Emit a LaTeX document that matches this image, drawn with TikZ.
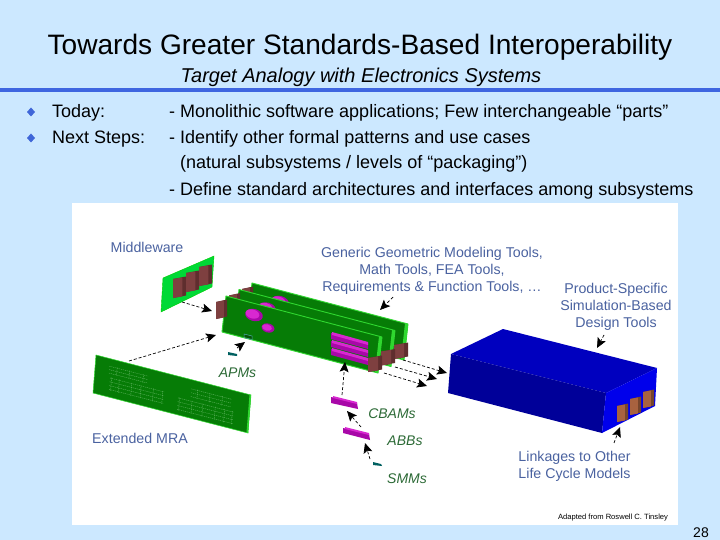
\documentclass[tikz,border=0pt]{standalone}
\usepackage{fontspec}
\setmainfont{Liberation Sans}
\usetikzlibrary{arrows.meta}
\definecolor{bgblue}{HTML}{CCE8FF}
\definecolor{rule}{HTML}{3F66E0}
\definecolor{bullet}{HTML}{3F66D8}
\definecolor{lbl}{HTML}{4A62A0}
\definecolor{glbl}{HTML}{2C6A36}
\definecolor{pcb}{HTML}{067C06}
\definecolor{pcbedge}{HTML}{2FD82F}
\definecolor{trace}{HTML}{5FB45F}
\definecolor{brick}{HTML}{7E4040}
\definecolor{brickd}{HTML}{5F2E2E}
\definecolor{purp}{HTML}{A808A8}
\definecolor{purpl}{HTML}{D828D0}
\definecolor{boxbrick}{HTML}{A8623F}
\tikzset{
  bluelabel/.style={text=lbl,font=\fontsize{14.2}{17}\selectfont,align=center,inner sep=0pt},
  greenlabel/.style={text=glbl,font=\fontsize{14}{17}\itshape\selectfont,inner sep=0pt},
  bodytext/.style={anchor=base west,inner sep=0pt,font=\fontsize{18}{20}\selectfont},
  conn/.style={draw=black,line width=0.7pt,dash pattern=on 3pt off 2pt,-{Stealth[length=10pt,width=9pt,inset=2pt]}},
  bul/.style={fill=bullet,draw=none},
}
\newcommand{\brk}[4]{% x y w h
  \fill[brickd] (#1,#2) -- ++(#3,-2.5) -- ++(0,#4) -- ++(-#3,2.5) -- cycle;
  \fill[brick] (#1,#2) -- ++(#3*0.72,-1.5) -- ++(0,#4) -- ++(-#3*0.72,1.5) -- cycle;
}
\newcommand{\bxb}[4]{% brick on the blue box
  \fill[boxbrick!70!black] (#1,#2) -- ++(#3,-2.5) -- ++(0,#4) -- ++(-#3,2.5) -- cycle;
  \fill[boxbrick] (#1,#2) -- ++(#3*0.72,-1.5) -- ++(0,#4) -- ++(-#3*0.72,1.5) -- cycle;
}
\newcommand{\card}{%
  \fill[pcb,draw=pcbedge,line width=0.9pt,line join=round] (226,296) -- (382,337) -- (378,373) -- (222,332) -- cycle;
  \fill[pcbedge] (382,337) -- (378,373) -- (375,372) -- (379,336.5) -- cycle;
  \brk{216}{302}{11}{17}
  \fill[purp] (254,315) ellipse [x radius=9pt, y radius=6pt, rotate=-15];
  \fill[purpl] (252.5,314) ellipse [x radius=7pt, y radius=4.5pt, rotate=-15];
  \fill[purp] (268,328) ellipse [x radius=6.5pt, y radius=4.5pt, rotate=-15];
  \fill[purpl] (267,327.5) ellipse [x radius=5pt, y radius=3.2pt, rotate=-15];
}
% trace on the MRA board, in board coordinates u,v in 0..1
\newcommand{\trc}[4]{\draw ({96+155*(#1)-3*(#2)},{355+40*(#1)+38*(#2)}) -- ({96+155*(#3)-3*(#4)},{355+40*(#3)+38*(#4)});}
\begin{document}
\begin{tikzpicture}[x=1pt,y=-1pt]
\useasboundingbox (0,0) rectangle (720,540);
\fill[bgblue] (0,0) rectangle (720,540);
\fill[rule] (0,88) rectangle (720,92);
\fill[white] (72,203) rectangle (678,525);

% header text
\node[inner sep=0pt,font=\fontsize{28.1}{30}\selectfont] (title) at (360,47.5) {Towards Greater Standards-Based Interoperability};
\node[inner sep=0pt,font=\fontsize{20}{22}\itshape\selectfont] (subtitle) at (361,77) {Target Analogy with Electronics Systems};

\fill[bul] (31,107.5) -- (35,112) -- (31,116.5) -- (27,112) -- cycle;
\fill[bul] (31,133.5) -- (35,138) -- (31,142.5) -- (27,138) -- cycle;
\node[bodytext] (today) at (52,118) {Today:};
\node[bodytext] (next) at (52,143.5) {Next Steps:};
\node[bodytext] (b1) at (169,118) {- Monolithic software applications; Few interchangeable “parts”};
\node[bodytext] (b2) at (169,143.5) {- Identify other formal patterns and use cases};
\node[bodytext] (b3) at (180,169) {(natural subsystems / levels of “packaging”)};
\node[bodytext] (b4) at (169,195.5) {- Define standard architectures and interfaces among subsystems};

% middleware board
\fill[green!75!cyan!85!black,draw=green!80!black,line width=0.4pt] (163,278) -- (214,256) -- (212,287) -- (161,312) -- cycle;
\brk{173}{279}{13}{19}
\brk{186}{273}{13}{19}
\brk{199}{267}{13}{19}

% cards
\begin{scope}[shift={(26,-13)}]
  \card
  \brk{368}{358}{14}{14}
\end{scope}
\begin{scope}[shift={(13,-6.5)}]
  \card
  \brk{368}{358}{14}{14}
\end{scope}
\card
% ports on front card
\foreach \d in {0,8,16}{
  \fill[purp] (331,333+\d) -- (368,343+\d) -- (368,349+\d) -- (331,339+\d) -- cycle;
  \fill[purpl] (332,332+\d) -- (368,342+\d) -- (368,345+\d) -- (332,335+\d) -- cycle;
}
\fill[pcb!70!black,draw=teal!70!white,line width=0.5pt] (244,334) -- (252,336) -- (252,339.5) -- (244,337.5) -- cycle;
\brk{368}{358}{14}{14}

% Extended MRA board
\fill[pcb,draw=pcbedge,line width=0.5pt] (96,355) -- (251,395) -- (248,433) -- (93,393) -- cycle;
\fill[pcbedge] (251,395) -- (248,433) -- (246.5,432.5) -- (249.5,394.6) -- cycle;
\begin{scope}[draw=trace,line width=0.4pt,dash pattern=on 1.2pt off 0.8pt]
  \foreach \va in {0.20,0.29,0.38}{\trc{0.09}{\va}{0.34}{\va}}
  \foreach \va in {0.50,0.60,0.70,0.80}{\trc{0.10}{\va}{0.45}{\va}}
  \foreach \va in {0.24,0.34,0.44}{\trc{0.62}{\va}{0.88}{\va}}
  \foreach \va in {0.56,0.66,0.76,0.86}{\trc{0.54}{\va}{0.90}{\va}}
  \foreach \ua in {0.11,0.16,0.24,0.30,0.38,0.44}{\trc{\ua}{0.48}{\ua}{0.82}}
  \foreach \ua in {0.55,0.63,0.70,0.78,0.84,0.89}{\trc{\ua}{0.54}{\ua}{0.88}}
  \foreach \ua in {0.66,0.74,0.82}{\trc{\ua}{0.22}{\ua}{0.46}}
  \foreach \ua in {0.14,0.22,0.31}{\trc{\ua}{0.18}{\ua}{0.40}}
\end{scope}

% blue box
\fill[blue!75!black] (451,354) -- (503,329) -- (657,368) -- (606,393) -- cycle;
\fill[blue!60!black] (451,354) -- (606,393) -- (602,433) -- (448,393) -- cycle;
\fill[blue!92!black] (606,393) -- (657,368) -- (655,406) -- (602,433) -- cycle;
\bxb{617}{406}{11}{16}
\bxb{630}{399}{11}{16}
\bxb{643}{392}{11}{16}

% small modules
\fill[purp] (331,397) -- (357,403) -- (358,409) -- (331,403) -- cycle;
\fill[purpl] (333,396) -- (357,402) -- (357,404) -- (333,398) -- cycle;
\fill[purp] (343,428) -- (369,434) -- (370,440) -- (343,433) -- cycle;
\fill[purpl] (345,427) -- (369,433) -- (369,435) -- (345,429) -- cycle;
\fill[teal!75!black] (228,352) -- (237,354) -- (237,356) -- (228,355) -- cycle;
\fill[teal!75!black] (373,462) -- (381,464) -- (382,466) -- (373,465) -- cycle;

% labels
\node[bluelabel] (middleware) at (147,247) {Middleware};
\node[bluelabel] (generic) at (432,270.5) {Generic Geometric Modeling Tools,\\Math Tools, FEA Tools,\\Requirements \& Function Tools, \dots};
\node[bluelabel] (product) at (616,307) {Product-Specific\\Simulation-Based\\Design Tools};
\node[bluelabel] (mra) at (140,438.5) {Extended MRA};
\node[bluelabel,align=left] (linkages) at (574.5,466) {Linkages to Other\\Life Cycle Models};
\node[greenlabel] (apms) at (237.5,373) {APMs};
\node[greenlabel] (cbams) at (392,414) {CBAMs};
\node[greenlabel] (abbs) at (405,441) {ABBs};
\node[greenlabel] (smms) at (407,479) {SMMs};
\node[inner sep=0pt,font=\fontsize{7.6}{9}\selectfont] (credit) at (613,518) {Adapted from Roswell C. Tinsley};
\node[inner sep=0pt,font=\fontsize{14}{16}\selectfont] (page) at (701,533) {28};

% connector ends
\coordinate (mwT) at (182,302); \coordinate (mwH) at (212,311);
\coordinate (mraT) at (129,361); \coordinate (mraH) at (216,335);
\coordinate (apmT) at (237,348); \coordinate (apmH) at (245,342);
\coordinate (genT) at (393,297); \coordinate (genH) at (380,310);
\coordinate (cbT) at (342,395); \coordinate (cbH) at (345,362);
\coordinate (abT) at (361,427); \coordinate (abH) at (347,411);
\coordinate (smT) at (370,459); \coordinate (smH) at (365,443);
\coordinate (c1T) at (403,360); \coordinate (c1H) at (447,373);
\coordinate (c2T) at (395,367); \coordinate (c2H) at (437,379);
\coordinate (c3T) at (384,373); \coordinate (c3H) at (427,386);
\coordinate (prT) at (604,335); \coordinate (prH) at (597,348);
\coordinate (liT) at (614,443); \coordinate (liH) at (620,427);
\foreach \a/\b in {mwT/mwH,mraT/mraH,apmT/apmH,genT/genH,cbT/cbH,abT/abH,smT/smH,c1T/c1H,c2T/c2H,c3T/c3H,prT/prH,liT/liH}
  \draw[conn] (\a) -- (\b);
\end{tikzpicture}
\end{document}
